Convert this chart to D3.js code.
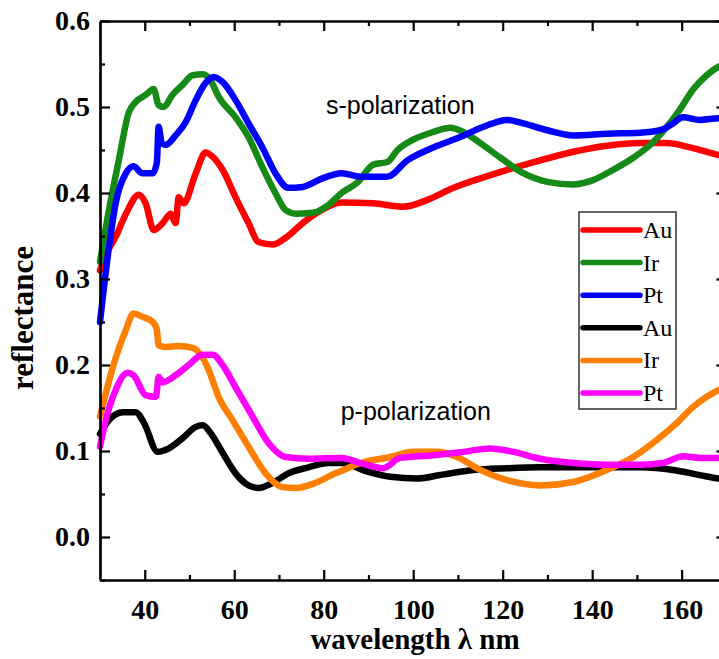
<!DOCTYPE html>
<html>
<head>
<meta charset="utf-8">
<script src="https://cdn.jsdelivr.net/npm/d3@7"></script>
<style>
  body { margin: 0; background: #fff; }
  svg { display: block; }
</style>
</head>
<body>
<div id="chart"></div>
<script>
// chart size
var width = 719,
  height = 659;

// data: wavelength (nm) and reflectance
var auS_x = [30, 31.5, 33.5, 35.8, 38.7, 40.2, 42, 44, 45.8, 46.9, 47.6, 48.7, 51.4, 53.6, 55.2, 57.4, 60.3, 63.2, 65.4, 68.6, 71.5, 75.3, 78.8, 84, 91, 97.8, 103.2, 109, 115, 121, 128.4, 135.8, 143.3, 150.7, 156.7, 161.9, 168.3, 170];
var auS_y = [0.31, 0.33, 0.349, 0.376, 0.398, 0.388, 0.357, 0.365, 0.376, 0.365, 0.395, 0.388, 0.423, 0.447, 0.442, 0.427, 0.395, 0.365, 0.343, 0.34, 0.348, 0.365, 0.378, 0.389, 0.388, 0.384, 0.392, 0.406, 0.417, 0.427, 0.438, 0.448, 0.455, 0.458, 0.458, 0.453, 0.444, 0.442];

var irS_x = [30, 32, 34.2, 36.4, 38, 40.2, 42, 43.1, 44.2, 46.2, 48.5, 50.7, 53, 54.7, 56.5, 60.3, 63.2, 66.3, 69.2, 71.5, 73.7, 77.5, 81, 84, 87.5, 91.1, 94.2, 96.5, 100, 104.5, 108.3, 111.2, 115, 119.5, 124.6, 130, 135.8, 140.2, 144.7, 149.2, 153.6, 156.7, 159.6, 162.5, 165.6, 168.3, 170];
var irS_y = [0.32, 0.38, 0.438, 0.493, 0.506, 0.514, 0.521, 0.502, 0.5, 0.514, 0.526, 0.537, 0.538, 0.531, 0.512, 0.488, 0.465, 0.43, 0.4, 0.38, 0.376, 0.377, 0.386, 0.4, 0.412, 0.433, 0.436, 0.45, 0.462, 0.471, 0.476, 0.471, 0.458, 0.441, 0.423, 0.413, 0.41, 0.415, 0.427, 0.441, 0.459, 0.477, 0.497, 0.52, 0.537, 0.547, 0.55];

var ptS_x = [30, 32, 33.5, 35.8, 37.5, 39.5, 41.8, 42.7, 43.1, 43.8, 44.7, 46.9, 49.2, 51.4, 53.6, 55.4, 57.6, 60.3, 63.2, 66.3, 69.2, 72.1, 75.3, 79.7, 84, 88.2, 94.2, 98.7, 104.5, 110.5, 115.7, 121, 124.6, 130, 135.8, 143.3, 150.7, 155.2, 158.1, 160.3, 164.1, 168.3, 170];
var ptS_y = [0.25, 0.337, 0.388, 0.423, 0.431, 0.423, 0.423, 0.435, 0.477, 0.458, 0.456, 0.467, 0.483, 0.508, 0.528, 0.535, 0.528, 0.508, 0.481, 0.453, 0.423, 0.406, 0.407, 0.417, 0.423, 0.419, 0.419, 0.438, 0.453, 0.465, 0.477, 0.485, 0.481, 0.473, 0.467, 0.469, 0.47, 0.473, 0.481, 0.488, 0.485, 0.487, 0.487];

var auP_x = [30, 32, 35.1, 38, 39.8, 42.9, 45.4, 48.5, 51.4, 53, 54.7, 57.4, 60.3, 63.2, 65.4, 68.6, 72.1, 76.6, 81, 84, 89.8, 94.9, 100.9, 106, 113.4, 121, 128.4, 135.8, 143.3, 150.7, 158.1, 164.1, 168.3, 170];
var auP_y = [0.12, 0.136, 0.145, 0.145, 0.133, 0.099, 0.103, 0.115, 0.128, 0.13, 0.121, 0.098, 0.074, 0.06, 0.057, 0.063, 0.074, 0.081, 0.086, 0.086, 0.076, 0.07, 0.068, 0.072, 0.078, 0.08, 0.081, 0.081, 0.081, 0.081, 0.078, 0.072, 0.068, 0.067];

var irP_x = [30, 32.9, 35.8, 37.5, 39.5, 41.8, 42.7, 43.1, 44.7, 47.6, 50.7, 53, 54.3, 56.5, 59.6, 63.2, 67, 70.8, 73.7, 78.2, 82.6, 84.5, 88.2, 94.9, 100, 105.4, 109.8, 115, 121, 128.4, 135.8, 143.3, 149.2, 154.5, 159, 162.5, 165.6, 168.3, 170];
var irP_y = [0.14, 0.198, 0.241, 0.26, 0.256, 0.25, 0.241, 0.223, 0.221, 0.222, 0.22, 0.208, 0.194, 0.163, 0.136, 0.105, 0.074, 0.058, 0.057, 0.063, 0.074, 0.078, 0.086, 0.093, 0.099, 0.099, 0.093, 0.078, 0.066, 0.06, 0.064, 0.078, 0.093, 0.113, 0.133, 0.151, 0.163, 0.171, 0.175];

var ptP_x = [30, 31.3, 33.5, 36.2, 37.5, 40.2, 42.5, 43.1, 44, 46.9, 49.8, 53, 55.2, 57.4, 60.3, 64.1, 67.7, 71.5, 76.6, 84, 88.2, 93.3, 97.1, 104.5, 111.2, 117.2, 122.4, 128.4, 135.8, 143.3, 150.7, 155.8, 160.3, 164.1, 168.3, 170];
var ptP_y = [0.105, 0.136, 0.171, 0.191, 0.188, 0.165, 0.163, 0.186, 0.18, 0.188, 0.2, 0.212, 0.212, 0.2, 0.174, 0.14, 0.109, 0.093, 0.091, 0.092, 0.086, 0.08, 0.092, 0.095, 0.099, 0.103, 0.099, 0.091, 0.086, 0.084, 0.084, 0.086, 0.094, 0.092, 0.092, 0.092];

var seriesNames = ["Au", "Ir", "Pt", "Au", "Ir", "Pt"];
var seriesColors = ["#ff0000", "#168a16", "#0000ff", "#000000", "#ff8000", "#ff00ff"];
var seriesX = [auS_x, irS_x, ptS_x, auP_x, irP_x, ptP_x];
var seriesY = [auS_y, irS_y, ptS_y, auP_y, irP_y, ptP_y];

var xTicks = [40, 60, 80, 100, 120, 140, 160];
var yTicks = [0.0, 0.1, 0.2, 0.3, 0.4, 0.5, 0.6];

var svg = d3.select("#chart").append("svg")
  .attr("width", width)
  .attr("height", height);

// plot box runs past the right edge of the picture, like the original crop
var x = d3.scaleLinear().domain([30, 170]).range([100, 726.4]);
var y = d3.scaleLinear().domain([-0.05, 0.6]).range([580, 21]);

var serif = "'Liberation Serif', 'Times New Roman', serif";
var sans = "'Liberation Sans', Arial, sans-serif";

// curves
var line = d3.line()
  .x(function (d) { return x(d[0]); })
  .y(function (d) { return y(d[1]); })
  .curve(d3.curveMonotoneX);

svg.append("g")
  .selectAll("path")
  .data(seriesX.map(function (xs, i) { return xs.map(function (v, j) { return [v, seriesY[i][j]]; }); }))
  .enter()
  .append("path")
  .attr("d", line)
  .attr("fill", "none")
  .attr("stroke", function (d, i) { return seriesColors[i]; })
  .attr("stroke-width", 6.5)
  .attr("stroke-linejoin", "round")
  .attr("stroke-linecap", "round");

// axes with inward ticks, major + minor
var minorX = d3.range(50, 171, 20);
var minorY = [-0.05, 0.05, 0.15, 0.25, 0.35, 0.45, 0.55];

function styleAxis(g) {
  g.select(".domain").attr("stroke", "#000").attr("stroke-width", 2.2);
  g.selectAll(".tick line").attr("stroke", "#000").attr("stroke-width", 2.2);
}

svg.append("g")
  .attr("transform", "translate(0," + y(-0.05) + ")")
  .call(d3.axisBottom(x).tickValues(xTicks).tickSizeInner(-10).tickSizeOuter(0).tickPadding(19).tickFormat(d3.format("d")))
  .call(styleAxis)
  .call(function (g) {
    g.selectAll("text").attr("font-family", serif).attr("font-weight", "bold").attr("font-size", 28).attr("fill", "#000");
  });

svg.append("g")
  .attr("transform", "translate(0," + y(-0.05) + ")")
  .call(d3.axisBottom(x).tickValues(minorX).tickSizeInner(-5).tickSizeOuter(0).tickFormat(""))
  .call(styleAxis);

svg.append("g")
  .attr("transform", "translate(0," + y(0.6) + ")")
  .call(d3.axisTop(x).tickValues(xTicks).tickSizeInner(-10).tickSizeOuter(0).tickFormat(""))
  .call(styleAxis);

svg.append("g")
  .attr("transform", "translate(0," + y(0.6) + ")")
  .call(d3.axisTop(x).tickValues(minorX).tickSizeInner(-5).tickSizeOuter(0).tickFormat(""))
  .call(styleAxis);

svg.append("g")
  .attr("transform", "translate(" + x(30) + ",0)")
  .call(d3.axisLeft(y).tickValues(yTicks).tickSizeInner(-10).tickSizeOuter(0).tickPadding(10).tickFormat(d3.format(".1f")))
  .call(styleAxis)
  .call(function (g) {
    g.selectAll("text").attr("font-family", serif).attr("font-weight", "bold").attr("font-size", 28).attr("fill", "#000");
  });

svg.append("g")
  .attr("transform", "translate(" + x(30) + ",0)")
  .call(d3.axisLeft(y).tickValues(minorY).tickSizeInner(-5).tickSizeOuter(0).tickFormat(""))
  .call(styleAxis);

svg.append("g")
  .attr("transform", "translate(" + x(170) + ",0)")
  .call(d3.axisRight(y).tickValues(yTicks).tickSizeInner(-10).tickSizeOuter(0).tickFormat(""))
  .call(styleAxis);

// axis titles
svg.append("text")
  .attr("x", 415)
  .attr("y", 649)
  .attr("text-anchor", "middle")
  .attr("font-family", serif)
  .attr("font-weight", "bold")
  .attr("font-size", 29)
  .text("wavelength \u03bb nm");

svg.append("text")
  .attr("transform", "translate(33,318) rotate(-90)")
  .attr("text-anchor", "middle")
  .attr("font-family", serif)
  .attr("font-weight", "bold")
  .attr("font-size", 31)
  .text("reflectance");

// annotations
svg.append("text")
  .attr("x", x(80.5))
  .attr("y", y(0.492))
  .attr("font-family", sans)
  .attr("font-size", 25)
  .text("s-polarization");

svg.append("text")
  .attr("x", x(83.8))
  .attr("y", y(0.136))
  .attr("font-family", sans)
  .attr("font-size", 25)
  .text("p-polarization");

// legend
var legend = svg.append("g").attr("transform", "translate(579,212)");
legend.append("rect")
  .attr("width", 97)
  .attr("height", 197)
  .attr("fill", "#fff")
  .attr("stroke", "#333")
  .attr("stroke-width", 1.5);

var rows = legend.selectAll("g.row")
  .data(seriesNames)
  .enter()
  .append("g")
  .attr("class", "row")
  .attr("transform", function (d, i) { return "translate(0," + (18 + i * 32.6) + ")"; });

rows.append("line")
  .attr("x1", 4)
  .attr("x2", 61)
  .attr("stroke", function (d, i) { return seriesColors[i]; })
  .attr("stroke-width", 5.5)
  .attr("stroke-linecap", "round");

rows.append("text")
  .attr("x", 64)
  .attr("y", 8)
  .attr("font-family", serif)
  .attr("font-size", 24)
  .text(function (d) { return d; });
</script>
</body>
</html>
